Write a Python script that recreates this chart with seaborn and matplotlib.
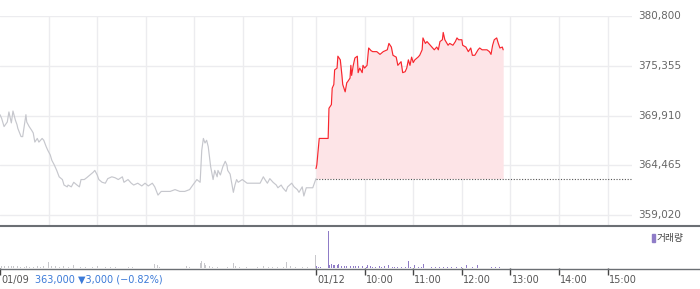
import numpy as np
import pandas as pd
import matplotlib
matplotlib.use("Agg")
import matplotlib.pyplot as plt
from matplotlib.lines import Line2D
from matplotlib.patches import Rectangle
import seaborn as sns

# ---------------- data ----------------
prev_close = 363000
y_ticks = [359020, 364465, 369910, 375355, 380800]
y_tick_labels = ["359,020", "364,465", "369,910", "375,355", "380,800"]

# day 1 (01/09): minutes since 09:00, price
day1_min = [0, 2, 5, 9, 11, 14, 16, 19, 21, 22, 26, 28, 32, 33, 36, 39, 41, 43, 46, 48,
            52, 54, 57, 59, 62, 64, 67, 70, 73, 77, 79, 83, 84, 88, 91, 95, 98, 100, 104, 107,
            111, 115, 117, 120, 122, 126, 130, 133, 138, 142, 146, 151, 153, 158, 162, 165, 170,
            175, 179, 183, 188, 191, 195, 199, 204, 210, 216, 222, 228, 234, 238, 243, 247, 249,
            251, 253, 255, 257, 260, 263, 265, 268, 269, 272, 275, 278, 280, 281, 284, 286, 288,
            290, 292, 294, 299, 305, 312, 321, 325, 327, 330, 333, 337, 341, 343, 347, 349, 353,
            355, 360, 363, 367, 369, 373, 375, 378, 383, 386, 390]
day1_price = [370000, 369600, 368700, 369200, 370300, 369100, 370400, 369400, 368900, 368500,
              367600, 367600, 370000, 369200, 368700, 368300, 368000, 367000, 367400, 367000,
              367400, 367200, 366500, 366100, 365600, 365000, 364500, 363900, 363200, 362900,
              362300, 362100, 362300, 362100, 362600, 362300, 362100, 362900, 362900, 363100,
              363400, 363700, 363900, 363400, 362900, 362600, 362500, 363000, 363200, 363100,
              362900, 363200, 362600, 362900, 362500, 362300, 362500, 362200, 362500, 362200,
              362500, 362100, 361200, 361600, 361600, 361600, 361800, 361600, 361600, 361800,
              362300, 362900, 362600, 366100, 367400, 366900, 367200, 366500, 364300, 362900,
              363900, 363200, 363900, 363400, 364300, 364900, 364500, 363900, 363500, 362500,
              361500, 362300, 362900, 362600, 362900, 362500, 362500, 362500, 363200, 362900,
              362500, 363000, 362600, 362300, 362000, 362300, 362000, 361600, 362100, 362500,
              362100, 361800, 361500, 362100, 361100, 362000, 362000, 362000, 363000]

# day 2 (01/12): minutes since 09:00, price
day2_min = [0, 1, 4, 15, 16, 19, 20, 22, 23, 26, 27, 30, 32, 33, 36, 38, 39, 42, 43, 44,
            46, 48, 51, 52, 54, 57, 58, 60, 63, 65, 68, 70, 75, 79, 83, 88, 90, 93, 95, 99,
            101, 105, 107, 110, 112, 114, 116, 118, 120, 122, 126, 128, 131, 132, 135, 137,
            139, 143, 146, 149, 151, 153, 156, 157, 159, 163, 165, 169, 172, 174, 176, 180,
            181, 185, 188, 191, 193, 196, 200, 202, 205, 211, 214, 216, 218, 220, 223, 225,
            227, 230, 231]
day2_price = [364100, 364500, 367400, 367400, 370700, 371100, 372900, 373300, 374900, 375100,
              376400, 376000, 374300, 373300, 372500, 373500, 373600, 374000, 375400, 374300,
              375400, 376200, 376400, 374600, 375100, 374600, 375400, 375100, 375400, 377300,
              377000, 376900, 376900, 376600, 376900, 377100, 377800, 377400, 376500, 376300,
              375400, 375800, 374600, 374700, 375100, 376000, 375400, 376300, 375700, 376000,
              376300, 376500, 377100, 378400, 377800, 378000, 377800, 377400, 377100, 377400,
              377100, 378000, 378200, 379000, 378200, 377600, 377800, 377600, 378000, 378400,
              378200, 378200, 377600, 377400, 376900, 377300, 376500, 376500, 377100, 377300,
              377100, 377100, 376900, 376600, 377600, 378200, 378400, 377800, 377300, 377400,
              377100]

# volumes
day1_vol_min = [0, 2, 6, 10, 14, 17, 21, 25, 30, 33, 37, 41, 46, 50, 54, 60, 63, 68, 73, 78,
                84, 91, 99, 106, 114, 120, 130, 136, 142, 158, 164, 191, 194, 197, 230, 234,
                248, 249, 252, 254, 258, 262, 268, 274, 281, 288, 291, 296, 304, 311, 318, 325,
                331, 336, 343, 350, 353, 358, 365, 373, 380, 389]
day1_vol = [500, 200, 200, 200, 200, 200, 200, 150, 100, 200, 150, 150, 200, 150, 200, 600,
            200, 200, 100, 200, 150, 350, 150, 150, 150, 200, 150, 150, 150, 150, 150, 400,
            300, 150, 200, 150, 500, 700, 500, 300, 200, 150, 150, 150, 150, 500, 200, 150,
            150, 150, 150, 200, 150, 150, 150, 150, 600, 200, 150, 150, 150, 1300]
day2_vol_min = [0, 1, 3, 5, 16, 17, 19, 21, 23, 26, 28, 31, 35, 38, 42, 46, 49, 53, 57, 58,
                62, 64, 67, 70, 74, 78, 81, 85, 90, 94, 97, 101, 106, 110, 114, 117, 121, 126,
                130, 133, 137, 142, 147, 152, 157, 162, 167, 173, 179, 186, 193, 199, 217, 222,
                227]
day2_vol = [500, 200, 150, 150, 3670, 300, 400, 300, 300, 300, 400, 250, 250, 200, 200, 200,
            250, 200, 200, 400, 150, 300, 200, 150, 150, 200, 150, 200, 300, 150, 150, 150,
            150, 150, 700, 150, 300, 150, 150, 400, 150, 150, 150, 150, 150, 150, 150, 150,
            150, 300, 100, 300, 150, 100, 150]

x_tick_labels = ["01/12", "10:00", "11:00", "12:00", "13:00", "14:00", "15:00"]
summary_date = "01/09"
summary_text = "363,000 \u25bc3,000 (\u22120.82%)"
legend_label = "거래량"

# ---------------- layout ----------------
W, H = 700, 289
DAY = 390
sns.set_theme(style="white")
plt.rcParams['font.family'] = ['DejaVu Sans', 'Noto Sans CJK KR']

fig = plt.figure(figsize=(W / 100, H / 100), dpi=100)
ax_right = 632 / W
ax = fig.add_axes([0, 1 - 225 / H, ax_right, (225 - 16) / H])
axv = fig.add_axes([0, 1 - 268 / H, ax_right, (268 - 226) / H])

d1 = pd.DataFrame({"t": day1_min, "p": day1_price})
d2 = pd.DataFrame({"t": np.array(day2_min) + DAY, "p": day2_price})

grid_c = "#ececef"
vgrid = [60, 120, 180, 240, 300, 360, 390, 450, 510, 570, 630, 690, 750]
for g in vgrid:
    ax.axvline(g, color=grid_c, lw=1, zorder=0)
for yt in y_ticks:
    ax.axhline(yt, color=grid_c, lw=1, zorder=0)

ax.fill_between(d2["t"], d2["p"], prev_close, color="#fde4e7", lw=0, zorder=1)
sns.lineplot(data=d1, x="t", y="p", ax=ax, color="#c6c7cd", lw=0.85, zorder=3)
sns.lineplot(data=d2, x="t", y="p", ax=ax, color="#f8262e", lw=0.85, zorder=4)
ax.plot([DAY, 2 * DAY], [prev_close, prev_close], color="#555555", lw=0.8,
        linestyle=(0, (1, 1.5)), zorder=2)

ypp = (380800 - 359020) / 199
ax.set_xlim(0, 2 * DAY)
ax.set_ylim(359020 - 10 * ypp, 380800)
ax.set_xlabel("")
ax.set_ylabel("")
ax.set_xticks([])
ax.set_yticks([])
for s in ax.spines.values():
    s.set_visible(False)
for yt, lab in zip(y_ticks, y_tick_labels):
    ax.text(2 * DAY + 8, yt, lab, ha="left", va="center", fontsize=7.5, color="#666666",
            clip_on=False)

# volume
v1 = pd.DataFrame({"t": day1_vol_min, "v": day1_vol})
v2 = pd.DataFrame({"t": np.array(day2_vol_min) + DAY, "v": day2_vol})
axv.bar(v1["t"], v1["v"], width=1.2, color="#c8c8cc", lw=0)
axv.bar(v2["t"], v2["v"], width=1.2, color="#8f7cc7", lw=0)
axv.set_xlim(0, 2 * DAY)
axv.set_ylim(0, 4200)
axv.set_yticks([])
for s in axv.spines.values():
    s.set_visible(False)
tick_pos = [0, 390, 450, 510, 570, 630, 690, 750]
axv.set_xticks(tick_pos)
axv.set_xticklabels([])
axv.tick_params(axis="x", direction="out", length=5, width=1, color="#444444", bottom=True)
axv.set_xlabel("")
axv.set_ylabel("")
for pos, lab in zip(tick_pos[1:], x_tick_labels):
    axv.text(pos + 1.5, -0.28, lab, transform=axv.get_xaxis_transform(), ha="left",
             va="center", fontsize=7, color="#555555", clip_on=False)
axv.text(2, -0.28, summary_date, transform=axv.get_xaxis_transform(), ha="left",
         va="center", fontsize=7, color="#555555", clip_on=False)
axv.text(43, -0.28, summary_text, transform=axv.get_xaxis_transform(), ha="left",
         va="center", fontsize=7, color="#3b7ad8", clip_on=False)

# legend
fig.add_artist(Rectangle((652 / W, 1 - 242 / H), 2.5 / W, 8 / H, color="#8f7cc7",
                         transform=fig.transFigure))
fig.text(657 / W, 1 - 238 / H, legend_label, color="#444444", fontsize=7, ha="left",
         va="center", family=['Noto Sans CJK KR', 'DejaVu Sans'])

# separators
fig.add_artist(Line2D([0, 1], [1 - 225.5 / H, 1 - 225.5 / H], color="#6b6f74", lw=1.5,
                      transform=fig.transFigure))
fig.add_artist(Line2D([0, 1], [1 - 268.5 / H, 1 - 268.5 / H], color="#6b6f74", lw=1.0,
                      transform=fig.transFigure))

fig.savefig("out.png", dpi=100)
